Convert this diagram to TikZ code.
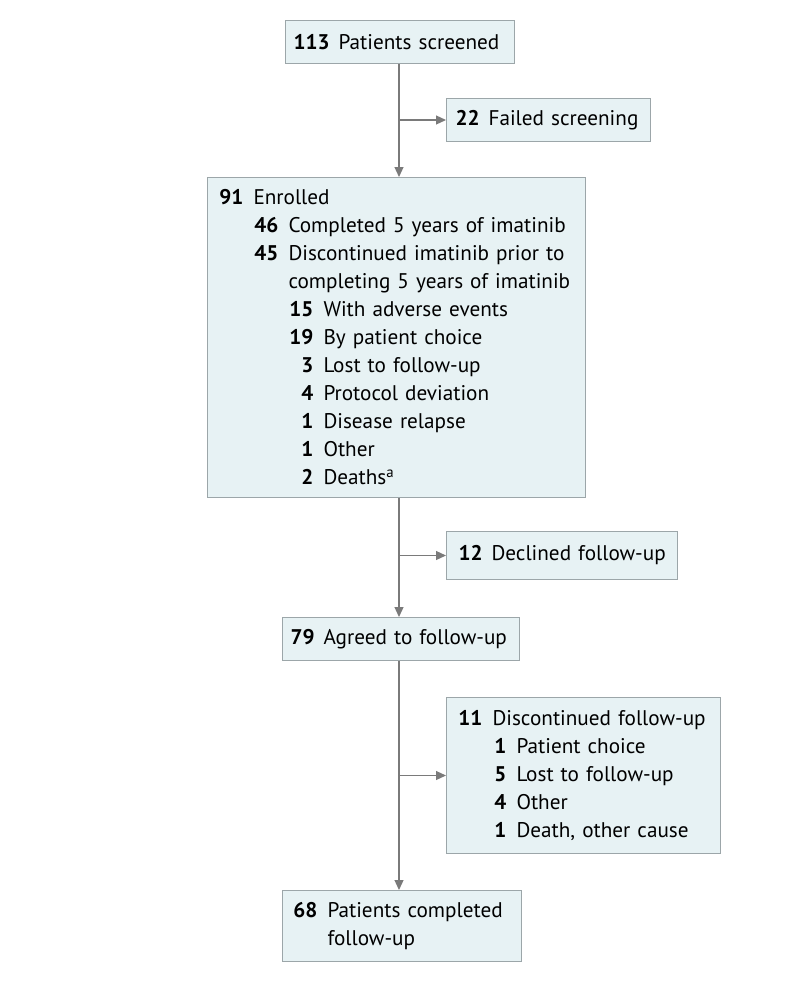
\documentclass[tikz,border=0pt]{standalone}
\usepackage{fontspec}
\setmainfont{PT Sans}
\usetikzlibrary{arrows.meta}
\definecolor{fillc}{HTML}{E7F2F4}
\definecolor{bordc}{HTML}{9CA6A9}
\definecolor{linec}{HTML}{7A7A7A}
\newcommand{\nline}[3]{\makebox[#1][r]{\bfseries #2}\hspace{10pt}#3}
\newcommand{\contline}[1]{\hspace*{#1}}
\tikzset{
  box/.style={draw=bordc, fill=fillc, line width=1pt, anchor=north west, align=left,
    inner ysep=0pt, font=\fontsize{21.2}{28}\selectfont},
  conn/.style={draw=linec, line width=1.2pt},
  arr/.style={conn, -{Triangle[length=10pt,width=9pt]}}
}
\begin{document}
\begin{tikzpicture}[x=1pt,y=-1pt]
\useasboundingbox (0,0) rectangle (794,986);
\coordinate (spine) at (399,0);
\node[box, inner xsep=8pt, text width=213pt, minimum height=43pt] (screened) at (285,20)
  {\mbox{\textbf{113}\hspace{9pt}Patients screened}};
\node[box, inner xsep=9pt, text width=186pt, minimum height=43pt] (failed) at (446,98)
  {\mbox{\textbf{22}\hspace{9pt}Failed screening}};
\node[box, inner xsep=12pt, text width=354pt, minimum height=320pt] (enrolled) at (207,177)
  {\nline{24pt}{91}{Enrolled}\\
   \nline{59pt}{46}{Completed 5 years of imatinib}\\
   \nline{59pt}{45}{Discontinued imatinib prior to}\\
   \contline{69pt}completing 5 years of imatinib\\
   \nline{94pt}{15}{With adverse events}\\
   \nline{94pt}{19}{By patient choice}\\
   \nline{94pt}{3}{Lost to follow-up}\\
   \nline{94pt}{4}{Protocol deviation}\\
   \nline{94pt}{1}{Disease relapse}\\
   \nline{94pt}{1}{Other}\\
   \nline{94pt}{2}{Deaths\textsuperscript{a}}};
\node[box, inner xsep=12pt, text width=207pt, minimum height=48pt] (declined) at (446,531)
  {\mbox{\textbf{12}\hspace{9pt}Declined follow-up}};
\node[box, inner xsep=8pt, text width=221pt, minimum height=43pt] (agreed) at (282,617)
  {\mbox{\textbf{79}\hspace{9pt}Agreed to follow-up}};
\node[box, inner xsep=12pt, text width=250pt, minimum height=156pt] (discfu) at (446,697)
  {\nline{24pt}{11}{Discontinued follow-up}\\
   \nline{48pt}{1}{Patient choice}\\
   \nline{48pt}{5}{Lost to follow-up}\\
   \nline{48pt}{4}{Other}\\
   \nline{48pt}{1}{Death, other cause}};
\node[box, inner xsep=11pt, text width=217pt, minimum height=71pt] (completed) at (282,890)
  {\nline{24pt}{68}{Patients completed}\\
   \contline{34pt}follow-up};
% connectors
\draw[arr] (screened.south -| spine) -- (enrolled.north -| spine);
\draw[arr] (failed.west -| spine) -- (failed.west);
\draw[arr] (enrolled.south -| spine) -- (agreed.north -| spine);
\draw[arr] (declined.west -| spine) -- (declined.west);
\draw[arr] (agreed.south -| spine) -- (completed.north -| spine);
\draw[arr] (discfu.west -| spine) -- (discfu.west);
\end{tikzpicture}
\end{document}
